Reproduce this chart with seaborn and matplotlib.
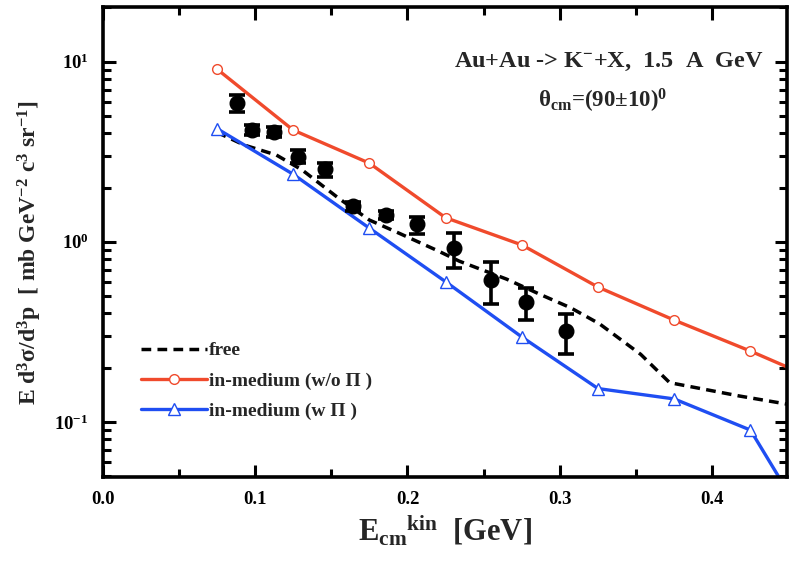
import matplotlib
matplotlib.use("Agg")
import matplotlib.pyplot as plt
import matplotlib.ticker as mticker
import numpy as np
import pandas as pd
import seaborn as sns

# Experimental K- spectrum (points with asymmetric error bars)
exp_x = [0.088, 0.098, 0.1125, 0.128, 0.146, 0.164, 0.1857, 0.206, 0.2305, 0.2548, 0.2775, 0.3037]
exp_y = [5.88, 4.17, 4.09, 2.97, 2.52, 1.58, 1.41, 1.25, 0.92, 0.61, 0.463, 0.319]
exp_lo = [5.25, 3.90, 3.82, 2.73, 2.30, 1.49, 1.33, 1.11, 0.711, 0.449, 0.366, 0.237]
exp_hi = [6.53, 4.45, 4.36, 3.23, 2.73, 1.67, 1.49, 1.38, 1.114, 0.771, 0.555, 0.395]

# Free-kaon calculation
free_x = [0.075, 0.093, 0.114, 0.131, 0.155, 0.175, 0.194, 0.22, 0.234, 0.265, 0.287,
          0.307, 0.326, 0.353, 0.372, 0.418, 0.45]
free_y = [4.05, 3.44, 3.03, 2.50, 1.74, 1.32, 1.12, 0.89, 0.78, 0.62, 0.51,
          0.43, 0.35, 0.237, 0.165, 0.139, 0.125]

# In-medium calculations
med_x = [0.075, 0.125, 0.175, 0.225, 0.275, 0.325, 0.375, 0.425, 0.475]
wo_pi_y = [9.1, 4.17, 2.73, 1.36, 0.96, 0.56, 0.367, 0.247, 0.162]
w_pi_y = [4.25, 2.37, 1.19, 0.60, 0.296, 0.153, 0.134, 0.090, 0.018]

x_ticks = [0.0, 0.1, 0.2, 0.3, 0.4]
y_ticks = [0.1, 1.0, 10.0]

sns.set_style("ticks")
plt.rcParams["font.family"] = ["Liberation Serif", "DejaVu Serif"]
plt.rcParams["font.weight"] = "bold"
plt.rcParams["axes.labelweight"] = "bold"
plt.rcParams["mathtext.fontset"] = "custom"
plt.rcParams["mathtext.rm"] = "Liberation Serif:bold"
plt.rcParams["mathtext.it"] = "Liberation Serif:bold:italic"
plt.rcParams["mathtext.bf"] = "Liberation Serif:bold"
plt.rcParams["mathtext.default"] = "rm"

red = "#f04a2c"
blue = "#1f4ef2"

fig = plt.figure(figsize=(7.89, 5.62), dpi=100)
ax = fig.add_axes([0.130, 0.151, 0.8675, 0.8365])

free_df = pd.DataFrame({"x": free_x, "y": free_y})
med_df = pd.DataFrame({"x": med_x, "wo": wo_pi_y, "w": w_pi_y})

sns.lineplot(data=free_df, x="x", y="y", ax=ax, color="black", lw=2.5,
             linestyle=(0, (2.8, 1.8)), label="free", sort=False)
sns.lineplot(data=med_df, x="x", y="wo", ax=ax, color=red, lw=2.4,
             marker="o", markersize=7, markerfacecolor="white",
             markeredgecolor=red, markeredgewidth=1.0,
             label="in-medium (w/o \u03a0 )", sort=False)
sns.lineplot(data=med_df, x="x", y="w", ax=ax, color=blue, lw=2.4,
             marker="^", markersize=8, markerfacecolor="white",
             markeredgecolor=blue, markeredgewidth=1.0,
             label="in-medium (w \u03a0 )", sort=False)

ey = np.array(exp_y)
yerr = np.vstack([ey - np.array(exp_lo), np.array(exp_hi) - ey])
ax.errorbar(exp_x, exp_y, yerr=yerr, fmt="o", color="black", ms=10.5,
            elinewidth=2.6, capsize=6, capthick=2.6, zorder=5)

ax.set_yscale("log")
ax.set_xlim(0.0, 0.449)
ax.set_ylim(0.0493, 20.1)

ax.set_xticks(x_ticks)
ax.xaxis.set_major_formatter(mticker.FormatStrFormatter("%.1f"))
ax.xaxis.set_minor_locator(mticker.MultipleLocator(0.05))
ax.set_yticks(y_ticks)
ax.yaxis.set_major_formatter(mticker.FuncFormatter(
    lambda v, p: r"$10^{%d}$" % int(round(np.log10(v)))))
ax.yaxis.set_minor_locator(mticker.LogLocator(base=10, subs=np.arange(2, 10)))
ax.yaxis.set_minor_formatter(mticker.NullFormatter())

ax.tick_params(which="both", direction="in", top=True, right=True,
               width=2.2, labelsize=13.5, colors="black", pad=10)
ax.tick_params(which="major", length=9)
ax.tick_params(which="minor", length=5.5)
for s in ax.spines.values():
    s.set_linewidth(2.6)
    s.set_color("black")

ax.set_xlabel(r"E$_{cm}$$^{kin}$  [GeV]", fontsize=22, fontweight="bold", labelpad=4)
ax.set_ylabel(r"E d$^3$σ/d$^3$p  [ mb GeV$^{-2}$ c$^3$ sr$^{-1}$]",
              fontsize=17, fontweight="bold")
ax.yaxis.set_label_coords(-0.085, 0.477)

ax.text(0.965, 0.883, r"Au+Au -> K$^{-}$+X,  1.5  A  GeV", transform=ax.transAxes,
        ha="right", va="center", fontsize=17.5, fontweight="bold")
ax.text(0.731, 0.80, r"θ$_{cm}$=(90±10)$^{0}$", transform=ax.transAxes,
        ha="center", va="center", fontsize=16.5, fontweight="bold")

leg = ax.legend(loc="lower left", bbox_to_anchor=(0.045, 0.105), frameon=False,
                fontsize=14, handlelength=3.4, handletextpad=0.1,
                labelspacing=0.65, borderaxespad=0.0)

fig.savefig("out.png", dpi=100)
